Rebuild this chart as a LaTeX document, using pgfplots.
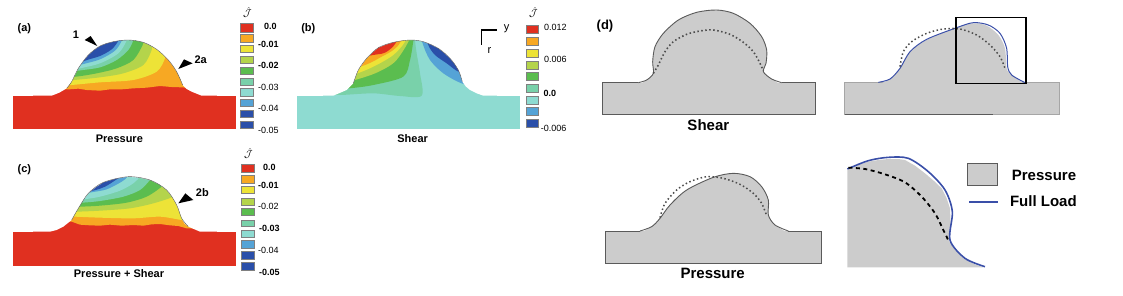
\documentclass[border=0pt]{standalone}
\usepackage{fontspec}
\setmainfont{Liberation Sans}
\usepackage{pgfplots}
\pgfplotsset{compat=1.18}
\definecolor{cR}{HTML}{E03020}
\definecolor{cO}{HTML}{F7A823}
\definecolor{cY}{HTML}{EDE337}
\definecolor{cG}{HTML}{B4D44B}
\definecolor{cE}{HTML}{5BBD4F}
\definecolor{cM}{HTML}{79D1AA}
\definecolor{cC}{HTML}{8EDBD1}
\definecolor{cB}{HTML}{55A3D6}
\definecolor{cN}{HTML}{2A4FA9}
\definecolor{gF}{HTML}{CCCCCC}
\definecolor{gL}{HTML}{5A5A5A}
\definecolor{bL}{HTML}{3A4FA8}
\pgfplotsset{panel/.style={hide axis,scale only axis,clip=false,xmin=0,ymin=0,y dir=reverse,anchor=south west}}
\newcommand{\band}[2]{\addplot[fill=#1,draw=none,smooth,tension=0.5] coordinates {#2} --cycle;}
\newcommand{\poly}[2]{\addplot[fill=#1,draw=none] coordinates {#2} --cycle;}
\newcommand{\sw}[5]{\addplot[fill=#1,draw=gray,line width=0.4pt] coordinates {(#2,#3)(#4,#3)(#4,#5)(#2,#5)} --cycle;}
\newcommand{\tl}[3]{\node[font=\fontsize{9}{11}\selectfont,anchor=center] at (axis cs:#1,#2) {#3};}
\newcommand{\tb}[3]{\node[font=\fontsize{11}{13}\selectfont\bfseries,anchor=center] at (axis cs:#1,#2) {#3};}
\newcommand{\tc}[3]{\node[font=\fontsize{15}{17}\selectfont\bfseries,anchor=center] at (axis cs:#1,#2) {#3};}
\newcommand{\jay}[2]{\node[font=\fontsize{10}{12}\selectfont] at (axis cs:#1,#2) {$\hat{\mathcal{J}}$};}
\begin{document}
\begin{tikzpicture}
\path[use as bounding box] (0,0) rectangle (1123pt,295pt);
% ---------- (a)
\begin{axis}[panel,at={(0pt,145pt)},width=290pt,height=140pt,xmax=870,ymax=420]
\poly{cR}{(40,257)(708,257)(708,357)(40,357)}
\poly{cR}{(100,270)(650,270)(650,70)(100,70)}
\poly{cO}{(150,236)(208,238)(235,236)(260,240)(300,242)(330,238)(365,238)(400,235)(440,233)(480,228)(515,231)(545,232)(600,236)(640,70)(150,70)}
\band{cY}{(150,230)(215,225)(300,217)(400,210)(470,185)(495,145)(490,132)(480,70)(150,70)}
\band{cG}{(150,216)(222,210)(300,202)(370,190)(430,165)(455,120)(455,100)(450,70)(150,70)}
\band{cE}{(150,206)(228,200)(290,190)(350,175)(400,150)(428,105)(430,90)(430,70)(150,70)}
\band{cM}{(150,195)(235,182)(300,172)(350,150)(385,120)(400,90)(400,70)(150,70)}
\band{cC}{(150,195)(240,175)(300,160)(355,130)(380,92)(385,70)(150,70)}
\band{cB}{(150,190)(247,163)(300,148)(345,122)(365,92)(368,70)(150,70)}
\band{cN}{(150,190)(255,152)(300,138)(335,118)(355,92)(358,70)(150,70)}
\poly{white}{(38,15)(38,257)(155,257)(178,248)(200,235)(215,215)(225,195)(235,175)(250,153)(265,135)(282,120)(300,108)(320,100)(340,95)(362,91)(385,90)(408,92)(430,97)(450,106)(470,118)(488,133)(505,150)(519,168)(530,185)(540,205)(548,225)(560,237)(575,245)(605,257)(710,257)(710,15)}
\addplot[gL,line width=0.4pt,smooth,tension=0.5] coordinates {(200,235)(215,215)(235,175)(265,135)(300,108)(340,95)(385,90)(430,97)(470,118)(505,150)(530,185)(548,225)};
\sw{cR}{722}{40}{760}{66}\sw{cO}{722}{72}{760}{97}\sw{cY}{722}{107}{760}{128}\sw{cG}{722}{140}{760}{160}\sw{cE}{722}{172}{760}{193}
\sw{cM}{722}{204}{760}{226}\sw{cC}{722}{236}{760}{258}\sw{cB}{722}{268}{760}{290}\sw{cN}{722}{300}{760}{322}\sw{cN}{722}{333}{760}{356}
\poly{black}{(292,108)(254,90)(272,78)}
\poly{black}{(535,177)(552,148)(578,160)}
\tb{73}{57}{(a)}\tb{228}{75}{1}\tb{602}{148}{2a}
\tl{358}{385}{\fontsize{11}{13}\selectfont\bfseries Pressure}
\jay{742}{8}
\tl{811}{50}{\bfseries 0.0}\tl{805}{103}{\bfseries -0.01}\tl{805}{167}{\bfseries -0.02}\tl{805}{232}{-0.03}\tl{805}{296}{-0.04}\tl{805}{362}{-0.05}
\end{axis}
% ---------- (b)
\begin{axis}[panel,at={(290pt,145pt)},width=270pt,height=140pt,xmax=810,ymax=420]
\poly{cC}{(22,257)(690,257)(690,357)(22,357)}
\poly{cC}{(100,270)(620,270)(620,60)(100,60)}
\band{cM}{(100,252)(150,255)(250,250)(330,258)(395,257)(390,190)(380,130)(375,90)(375,60)(100,60)}
\band{cE}{(100,240)(178,235)(250,225)(340,200)(360,150)(370,92)(372,60)(100,60)}
\band{cG}{(100,235)(195,210)(260,188)(315,155)(355,95)(358,60)(100,60)}
\band{cY}{(100,225)(208,188)(260,165)(310,135)(345,95)(348,60)(100,60)}
\band{cO}{(100,205)(225,165)(275,140)(310,120)(330,98)(335,60)(100,60)}
\band{cR}{(100,160)(250,135)(285,128)(315,102)(320,60)(100,60)}
\band{cB}{(620,170)(560,225)(515,220)(460,190)(420,150)(398,100)(395,60)(620,60)}
\band{cN}{(620,170)(540,190)(505,185)(470,160)(435,135)(415,105)(410,60)(620,60)}
\poly{white}{(20,15)(20,257)(130,257)(170,240)(190,220)(197,200)(205,180)(217,162)(230,145)(247,128)(265,113)(287,104)(310,97)(335,92)(360,90)(380,91)(400,95)(423,104)(445,115)(463,129)(480,145)(494,162)(505,180)(512,198)(517,215)(527,229)(540,240)(560,250)(580,257)(692,257)(692,15)}
\addplot[gL,line width=0.4pt,smooth,tension=0.5] coordinates {(190,220)(205,180)(230,145)(265,113)(310,97)(360,90)(400,95)(445,115)(480,145)(505,180)(517,215)};
\addplot[black,line width=1.3pt] coordinates {(620,60)(575,60)(575,105)};
\sw{cR}{708}{45}{745}{70}\sw{cO}{708}{82}{745}{105}\sw{cY}{708}{118}{745}{142}\sw{cG}{708}{153}{745}{177}\sw{cE}{708}{188}{745}{212}
\sw{cM}{708}{223}{745}{247}\sw{cC}{708}{258}{745}{282}\sw{cB}{708}{293}{745}{317}\sw{cN}{708}{328}{745}{353}
\tb{55}{57}{(b)}
\tl{650}{55}{\fontsize{11}{13}\selectfont y}\tl{598}{122}{\fontsize{11}{13}\selectfont r}
\tl{368}{385}{\fontsize{11}{13}\selectfont\bfseries Shear}
\jay{730}{8}
\node[font=\fontsize{9}{11}\selectfont,anchor=west,inner sep=0pt] at (axis cs:762,52) {0.012};
\node[font=\fontsize{9}{11}\selectfont,anchor=west,inner sep=0pt] at (axis cs:762,148) {0.006};
\node[font=\fontsize{9}{11}\selectfont\bfseries,anchor=west,inner sep=0pt] at (axis cs:760,250) {0.0};
\node[font=\fontsize{9}{11}\selectfont,anchor=west,inner sep=0pt] at (axis cs:752,355) {-0.006};
\end{axis}
% ---------- (c)
\begin{axis}[panel,at={(0pt,5pt)},width=290pt,height=140pt,xmax=870,ymax=420]
\poly{cR}{(40,245)(708,245)(708,347)(40,347)}
\poly{cR}{(100,260)(650,260)(650,50)(100,50)}
\poly{cO}{(150,212)(215,215)(240,224)(270,226)(300,227)(330,224)(365,227)(400,225)(430,227)(455,223)(480,222)(510,226)(535,228)(560,235)(620,236)(620,50)(150,50)}
\band{cY}{(150,197)(225,200)(300,203)(400,205)(480,200)(545,210)(600,215)(600,50)(150,50)}
\band{cG}{(150,188)(232,185)(300,182)(390,175)(460,160)(520,140)(570,110)(510,50)(150,50)}
\band{cE}{(150,172)(240,170)(300,167)(380,158)(440,140)(485,110)(515,80)(480,50)(150,50)}
\band{cM}{(150,165)(247,158)(300,153)(370,140)(420,120)(450,90)(470,65)(450,50)(150,50)}
\band{cC}{(150,165)(253,148)(300,140)(360,122)(400,100)(420,80)(430,65)(420,50)(150,50)}
\band{cB}{(150,150)(268,128)(320,118)(365,95)(382,80)(390,50)(150,50)}
\band{cN}{(150,150)(275,123)(315,110)(350,88)(370,75)(375,50)(150,50)}
\poly{white}{(38,15)(38,245)(150,245)(170,240)(190,230)(215,210)(225,192)(235,175)(250,150)(265,130)(287,112)(310,97)(347,86)(385,80)(418,83)(450,90)(477,103)(500,120)(517,142)(530,165)(538,185)(545,205)(553,220)(565,230)(600,245)(710,245)(710,15)}
\addplot[gL,line width=0.4pt,smooth,tension=0.5] coordinates {(215,210)(235,175)(265,130)(310,97)(385,80)(450,90)(500,120)(530,165)(545,205)(565,230)};
\sw{cR}{725}{42}{763}{68}\sw{cO}{725}{75}{763}{100}\sw{cY}{725}{110}{763}{131}\sw{cG}{725}{145}{763}{165}\sw{cE}{725}{175}{763}{196}
\sw{cM}{725}{210}{763}{230}\sw{cC}{725}{240}{763}{262}\sw{cB}{725}{272}{763}{294}\sw{cN}{725}{305}{763}{327}\sw{cN}{725}{338}{763}{362}
\poly{black}{(535,160)(556,130)(580,150)}
\tb{73}{60}{(c)}\tb{607}{127}{2b}
\tb{357}{372}{Pressure + Shear}
\jay{745}{10}
\tl{808}{52}{\bfseries 0.0}\tl{805}{106}{\bfseries -0.01}\tl{805}{170}{-0.02}\tl{808}{234}{\bfseries -0.03}\tl{805}{300}{-0.04}\tl{808}{366}{\bfseries -0.05}
\end{axis}
% ---------- (d) Shear
\begin{axis}[panel,at={(590pt,150pt)},width=240pt,height=140pt,xmax=720,ymax=420]
\poly{gF}{(38,233)(675,233)(675,328)(38,328)}
\band{gF}{(145,240)(170,225)(190,205)(188,170)(195,125)(220,85)(265,45)(320,22)(380,15)(430,25)(480,55)(515,95)(530,135)(528,175)(520,200)(545,222)(575,240)}
\addplot[gL,line width=0.8pt] coordinates {(145,233)(38,233)(38,328)(675,328)(675,233)(575,233)};
\addplot[gL,line width=0.9pt,smooth,tension=0.5] coordinates {(145,233)(170,225)(190,205)(188,170)(195,125)(220,85)(265,45)(320,22)(380,15)(430,25)(480,55)(515,95)(530,135)(528,175)(520,200)(545,222)(575,233)};
\addplot[black!70,line width=1.6pt,dash pattern=on 1.5pt off 2.5pt,smooth,tension=0.5] coordinates {(190,205)(205,180)(225,140)(250,110)(290,88)(330,78)(370,75)(420,88)(460,112)(490,140)(510,175)(520,197)};
\tb{45}{63}{\fontsize{13}{15}\selectfont (d)}
\tc{355}{360}{Shear}
\end{axis}
% ---------- (d) Full load
\begin{axis}[panel,at={(830pt,150pt)},width=240pt,height=140pt,xmax=720,ymax=420]
\addplot[fill=gF,draw=gray!70,line width=0.4pt] coordinates {(44,232)(688,232)(688,328)(44,328)} --cycle;
\band{gF}{(145,238)(180,222)(210,190)(240,140)(290,105)(380,68)(430,55)(470,62)(505,90)(525,130)(530,190)(545,210)(585,238)}
\addplot[gL,line width=0.7pt] coordinates {(44,328)(490,328)};
\addplot[bL,line width=1pt,smooth,tension=0.5] coordinates {(145,232)(180,222)(210,190)(240,140)(290,103)(380,68)(430,53)(475,60)(510,85)(530,130)(533,185)(545,210)(585,233)};
\addplot[black!70,line width=1.5pt,dash pattern=on 1.5pt off 2.5pt,smooth,tension=0.5] coordinates {(210,185)(220,140)(245,110)(290,85)(340,72)(390,72)(440,90)(480,120)(510,155)(525,190)};
\addplot[black,line width=1.6pt] coordinates {(378,37)(588,37)(588,236)(378,236)} --cycle;
\end{axis}
% ---------- (d) Pressure
\begin{axis}[panel,at={(590pt,5pt)},width=250pt,height=145pt,xmax=750,ymax=435]
\poly{gF}{(45,258)(695,258)(695,355)(45,355)}
\band{gF}{(150,264)(185,245)(210,220)(240,180)(290,135)(370,97)(430,85)(480,95)(515,125)(535,165)(535,210)(555,240)(595,264)}
\addplot[gL,line width=0.8pt] coordinates {(150,258)(45,258)(45,355)(695,355)(695,258)(595,258)};
\addplot[gL,line width=0.9pt,smooth,tension=0.5] coordinates {(150,258)(185,245)(210,220)(240,180)(290,135)(370,97)(430,85)(480,95)(515,125)(535,165)(535,210)(555,240)(595,258)};
\addplot[black!70,line width=1.5pt,dash pattern=on 1.5pt off 2.5pt,smooth,tension=0.5] coordinates {(210,218)(225,175)(260,135)(300,110)(350,95)(400,100)(450,118)(490,145)(515,175)(530,212)};
\tc{368}{386}{Pressure}
\end{axis}
% ---------- (d) Zoom and legend
\begin{axis}[panel,at={(835pt,5pt)},width=260pt,height=145pt,xmax=780,ymax=435]
\poly{gF}{(37,75)(70,60)(100,50)(130,45)(160,42)(190,42)(210,45)(240,62)(270,85)(297,108)(320,130)(335,160)(345,190)(347,240)(343,290)(360,315)(385,340)(415,356)(445,367)(37,367)}
\addplot[bL,line width=1.6pt,smooth,tension=0.5] coordinates {(37,72)(100,47)(160,37)(220,40)(280,80)(330,135)(352,200)(345,285)(390,340)(450,365)};
\addplot[black,line width=1.8pt,dash pattern=on 4pt off 3.5pt,smooth,tension=0.5] coordinates {(40,68)(90,72)(150,88)(210,112)(260,155)(300,205)(325,255)(343,292)};
\addplot[fill=gF,draw=gL,line width=1pt] coordinates {(398,55)(488,55)(488,120)(398,120)} --cycle;
\addplot[bL,line width=1.8pt] coordinates {(403,170)(490,170)};
\tc{627}{90}{Pressure}\tc{625}{167}{Full Load}
\end{axis}
\end{tikzpicture}
\end{document}
